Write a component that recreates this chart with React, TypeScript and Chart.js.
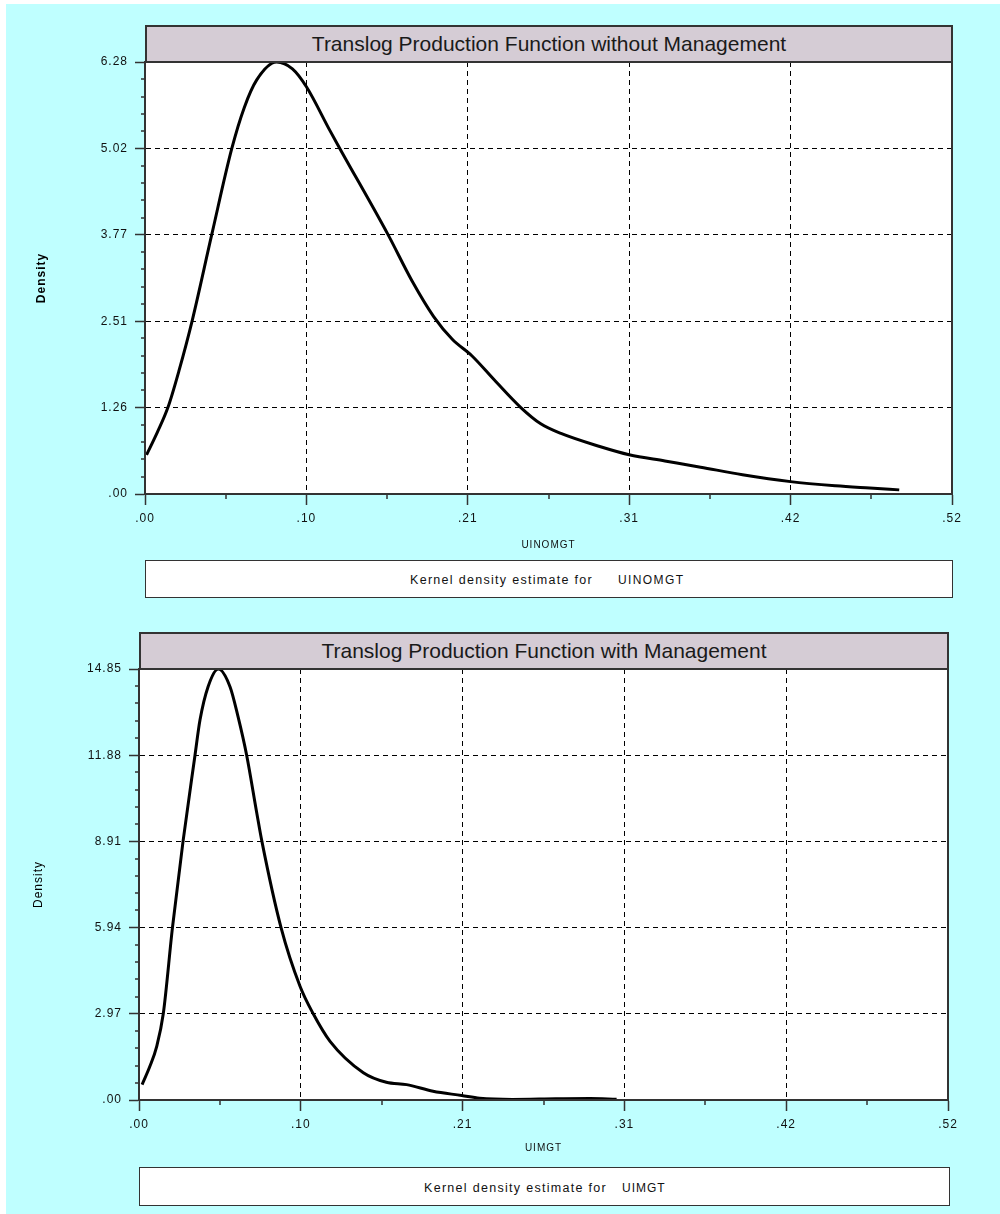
import React, { useEffect, useRef } from 'react';
import { Chart, registerables } from 'chart.js';

Chart.register(...registerables);

// ---- tick values / labels ----
const xTickValues = [0, 0.104, 0.208, 0.312, 0.416, 0.52];
const xTickLabels = ['.00', '.10', '.21', '.31', '.42', '.52'];

const yTicksNoMgt = [0, 1.256, 2.512, 3.768, 5.024, 6.28];
const yLabelsNoMgt = ['.00', '1.26', '2.51', '3.77', '5.02', '6.28'];

const yTicksMgt = [0, 2.97, 5.94, 8.91, 11.88, 14.85];
const yLabelsMgt = ['.00', '2.97', '5.94', '8.91', '11.88', '14.85'];

// ---- series: kernel density for UINOMGT ----
const uiNoMgtX = [
  0.001, 0.008, 0.0148, 0.022, 0.0303, 0.043, 0.0559, 0.064, 0.072, 0.0848, 0.095, 0.104,
  0.119, 0.1256, 0.1566, 0.172, 0.186, 0.198, 0.2106, 0.225, 0.242, 0.255, 0.268, 0.293,
  0.312, 0.335, 0.358, 0.385, 0.416, 0.445, 0.467, 0.486,
];
const uiNoMgtDensity = [
  0.57, 0.90, 1.26, 1.80, 2.51, 3.77, 5.02, 5.62, 6.02, 6.28, 6.18, 5.92,
  5.29, 5.02, 3.77, 3.10, 2.58, 2.25, 2.01, 1.66, 1.26, 1.02, 0.88, 0.69,
  0.57, 0.48, 0.39, 0.28, 0.18, 0.12, 0.087, 0.06,
];

// ---- series: kernel density for UIMGT ----
const uiMgtX = [
  0.002, 0.007, 0.0114, 0.0156, 0.0215, 0.0283, 0.036, 0.0392, 0.0444, 0.051, 0.0585, 0.0637,
  0.0692, 0.0757, 0.079, 0.0913, 0.1035, 0.112, 0.1228, 0.1442, 0.159, 0.172, 0.189, 0.2074,
  0.219, 0.24, 0.268, 0.29, 0.307,
];
const uiMgtDensity = [
  0.53, 1.16, 1.85, 2.97, 5.94, 8.91, 11.88, 13.09, 14.24, 14.85, 14.24, 13.2,
  11.88, 9.89, 8.91, 5.94, 3.92, 2.97, 2.02, 0.94, 0.61, 0.53, 0.30, 0.155,
  0.06, 0.02, 0.04, 0.05, 0.03,
];

const FONT = "'Liberation Sans', Arial, sans-serif";
Chart.defaults.font.family = FONT;

const framePlugin = {
  id: 'frame',
  beforeDraw(chart: any) {
    const { ctx, chartArea: a } = chart;
    ctx.save();
    ctx.fillStyle = '#ffffff';
    ctx.fillRect(a.left, a.top, a.right - a.left, a.bottom - a.top);
    ctx.restore();
    try {
      (ctx as any).letterSpacing = '1px';
    } catch (e) {
      /* ignore */
    }
  },
  afterDraw(chart: any) {
    const { ctx, chartArea: a, scales } = chart;
    const xs = scales.x;
    const ys = scales.y;
    ctx.save();
    ctx.strokeStyle = '#333';
    ctx.lineWidth = 1.5;
    ctx.beginPath();
    const xt = xs.ticks.map((t: any) => t.value);
    for (let i = 0; i < xt.length - 1; i++) {
      const px = Math.round(xs.getPixelForValue((xt[i] + xt[i + 1]) / 2));
      ctx.moveTo(px, a.bottom);
      ctx.lineTo(px, a.bottom + 5);
    }
    const yt = ys.ticks.map((t: any) => t.value);
    for (let i = 0; i < yt.length - 1; i++) {
      for (let k = 1; k < 5; k++) {
        const py = Math.round(ys.getPixelForValue(yt[i] + ((yt[i + 1] - yt[i]) * k) / 5));
        ctx.moveTo(a.left - 4, py);
        ctx.lineTo(a.left, py);
      }
    }
    ctx.stroke();
    ctx.lineWidth = 2;
    ctx.strokeRect(a.left, a.top, a.right - a.left, a.bottom - a.top);
    ctx.restore();
  },
};

function makeConfig(
  xs: number[],
  ys: number[],
  yTicks: number[],
  yLabels: string[],
  xTitle: string,
  yBold: boolean,
  geo: { padTop: number; padRight: number; yWidth: number; xHeight: number; yTitlePad: number; xTitlePad: number }
): any {
  const points = xs.map((x, i) => ({ x, y: ys[i] }));
  const gridColor = (n: number) => (c: any) => (c.index === 0 || c.index === n - 1 ? 'rgba(0,0,0,0)' : '#000');
  return {
    type: 'line',
    data: {
      datasets: [
        {
          data: points,
          borderColor: '#000',
          borderWidth: 3,
          pointRadius: 0,
          fill: false,
          cubicInterpolationMode: 'monotone',
        },
      ],
    },
    options: {
      responsive: false,
      animation: false,
      events: [],
      layout: { padding: { top: geo.padTop, right: geo.padRight, left: 0, bottom: 0 } },
      plugins: { legend: { display: false }, tooltip: { enabled: false }, title: { display: false } },
      scales: {
        x: {
          type: 'linear',
          min: 0,
          max: 0.52,
          afterBuildTicks: (s: any) => {
            s.ticks = xTickValues.map((v) => ({ value: v }));
          },
          afterFit: (s: any) => {
            s.height = geo.xHeight;
          },
          ticks: {
            autoSkip: false,
            maxRotation: 0,
            padding: 6,
            color: '#111',
            font: { size: 12, family: FONT },
            callback: (_v: any, i: number) => xTickLabels[i],
          },
          grid: {
            color: gridColor(xTickValues.length),
            lineWidth: 1,
            tickLength: 11,
            tickWidth: 1.5,
            tickColor: '#333',
          },
          border: { display: true, color: '#333', width: 2, dash: [5, 4] },
          title: {
            display: true,
            text: xTitle,
            color: '#111',
            font: { size: 10, family: FONT },
            padding: { top: 0, bottom: geo.xTitlePad },
          },
        },
        y: {
          type: 'linear',
          min: 0,
          max: yTicks[yTicks.length - 1],
          afterBuildTicks: (s: any) => {
            s.ticks = yTicks.map((v) => ({ value: v }));
          },
          afterFit: (s: any) => {
            s.width = geo.yWidth;
          },
          ticks: {
            autoSkip: false,
            padding: 7,
            color: '#111',
            font: { size: 12, family: FONT },
            callback: (_v: any, i: number) => yLabels[i],
          },
          grid: {
            color: gridColor(yTicks.length),
            lineWidth: 1,
            tickLength: 10,
            tickWidth: 1.5,
            tickColor: '#333',
          },
          border: { display: true, color: '#333', width: 2, dash: [5, 4] },
          title: {
            display: true,
            text: 'Density',
            color: '#000',
            font: { size: 12, weight: yBold ? 'bold' : 'normal', family: FONT },
            padding: { top: geo.yTitlePad, bottom: 0 },
          },
        },
      },
    },
    plugins: [framePlugin],
  };
}

const titleBox = (left: number, top: number, width: number, height: number): React.CSSProperties => ({
  position: 'absolute',
  left,
  top,
  width,
  height,
  boxSizing: 'border-box',
  background: '#D5CCD5',
  border: '2px solid #333',
  fontFamily: FONT,
  fontSize: 21,
  color: '#1a1a1a',
  display: 'flex',
  alignItems: 'center',
  justifyContent: 'center',
  whiteSpace: 'nowrap',
});

const legendBox = (left: number, top: number, width: number, height: number): React.CSSProperties => ({
  position: 'absolute',
  left,
  top,
  width,
  height,
  boxSizing: 'border-box',
  background: '#fff',
  border: '1.5px solid #333',
});

const legendText = (left: number, top: number): React.CSSProperties => ({
  position: 'absolute',
  left,
  top,
  fontFamily: FONT,
  fontSize: 12.5,
  letterSpacing: '1.3px',
  color: '#111',
  whiteSpace: 'nowrap',
  lineHeight: '14px',
});

export default function App() {
  const c1 = useRef<HTMLCanvasElement>(null);
  const c2 = useRef<HTMLCanvasElement>(null);

  useEffect(() => {
    const ch1 = new Chart(
      c1.current as HTMLCanvasElement,
      makeConfig(uiNoMgtX, uiNoMgtDensity, yTicksNoMgt, yLabelsNoMgt, 'UINOMGT', true, {
        padTop: 62,
        padRight: 48,
        yWidth: 145,
        xHeight: 116,
        yTitlePad: 34,
        xTitlePad: 59,
      })
    );
    const ch2 = new Chart(
      c2.current as HTMLCanvasElement,
      makeConfig(uiMgtX, uiMgtDensity, yTicksMgt, yLabelsMgt, 'UIMGT', false, {
        padTop: 59,
        padRight: 52,
        yWidth: 139,
        xHeight: 114,
        yTitlePad: 31,
        xTitlePad: 60,
      })
    );
    return () => {
      ch1.destroy();
      ch2.destroy();
    };
  }, []);

  return (
    <div style={{ position: 'absolute', left: 0, top: 0, width: 1000, height: 1214, background: '#fff', overflow: 'hidden' }}>
      <div style={{ position: 'absolute', left: 6, top: 4, right: 0, bottom: 0, background: '#BFFFFF' }} />
      <canvas ref={c1} width={1000} height={610} style={{ position: 'absolute', left: 0, top: 0, width: 1000, height: 610 }} />
      <canvas ref={c2} width={1000} height={604} style={{ position: 'absolute', left: 0, top: 610, width: 1000, height: 604 }} />

      <div style={titleBox(145, 25, 808, 38)}>Translog Production Function without Management</div>
      <div style={titleBox(139, 632, 810, 38)}>Translog Production Function with Management</div>

      <div style={legendBox(145, 560, 808, 38)} />
      <div style={legendText(410, 573)}>Kernel density estimate for</div>
      <div style={{ ...legendText(618, 573), fontSize: 12, letterSpacing: '1.4px' }}>UINOMGT</div>

      <div style={legendBox(139, 1167, 811, 39)} />
      <div style={legendText(424, 1181)}>Kernel density estimate for</div>
      <div style={{ ...legendText(622, 1181), fontSize: 12, letterSpacing: '1px' }}>UIMGT</div>
    </div>
  );
}
